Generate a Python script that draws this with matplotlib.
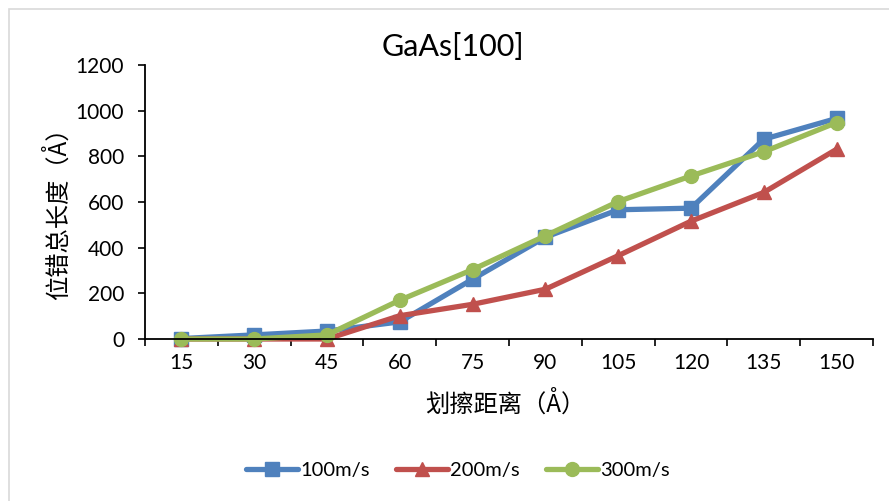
import matplotlib
matplotlib.use("Agg")
import matplotlib.pyplot as plt
from matplotlib.patches import Rectangle

plt.rcParams['font.family'] = ['Lato', 'Noto Sans CJK SC', 'DejaVu Sans']

distances = [15, 30, 45, 60, 75, 90, 105, 120, 135, 150]
v100 = [2, 18, 35, 75, 262, 446, 566, 573, 875, 966]
v200 = [0, 0, 0, 102, 152, 218, 365, 516, 642, 831]
v300 = [0, 0, 18, 170, 304, 452, 602, 714, 820, 948]
series_labels = ['100m/s', '200m/s', '300m/s']
y_ticks = [0, 200, 400, 600, 800, 1000, 1200]

colors = ['#4F81BD', '#C0504D', '#9BBB59']
markers = ['s', '^', 'o']

fig = plt.figure(figsize=(8.89, 5.01), dpi=100)
fig.patches.append(Rectangle((9 / 889, -0.1), 1.2, 1 - 9 / 501 + 0.1,
                             transform=fig.transFigure, fill=False,
                             edgecolor='#D9D9D9', linewidth=1.2))

ax = fig.add_axes([145 / 889, 1 - 339 / 501, (873 - 145) / 889, (339 - 65) / 501])
xs = list(range(len(distances)))
for vals, c, m, lab in zip([v100, v200, v300], colors, markers, series_labels):
    ax.plot(xs, vals, color=c, marker=m, markersize=10, linewidth=3.8,
            label=lab, clip_on=False, solid_capstyle='round')

ax.set_xlim(-0.5, len(distances) - 0.5)
ax.set_ylim(0, 1200)
ax.set_yticks(y_ticks)
ax.set_yticklabels([str(v) for v in y_ticks], fontsize=15)
ax.set_xticks(xs)
ax.set_xticklabels([str(d) for d in distances], fontsize=15)
ax.tick_params(axis='x', which='major', length=0, pad=10)
ax.set_xticks([i + 0.5 for i in range(-1, len(distances))], minor=True)
ax.tick_params(axis='x', which='minor', length=5, width=1.2, direction='out')
ax.tick_params(axis='y', length=5, width=1.2, direction='out', pad=10)

for s in ['top', 'right']:
    ax.spines[s].set_visible(False)
for s in ['left', 'bottom']:
    ax.spines[s].set_linewidth(1.3)

fig.text(453 / 889, 1 - 47 / 501, 'GaAs[100]', fontsize=22, ha='center', va='center')
fig.text(505 / 889, 1 - 404 / 501, '划擦距离（Å）', fontsize=17.5, ha='center', va='center',
         family=['Noto Sans CJK SC', 'DejaVu Sans'])
fig.text(58 / 889, 1 - 208 / 501, '位错总长度（Å）', fontsize=17.5, ha='center', va='center',
         rotation=90, family=['Noto Sans CJK SC', 'DejaVu Sans'])

fig.legend(loc='center', bbox_to_anchor=(458 / 889, 1 - 470 / 501), ncol=3,
           frameon=False, fontsize=14.5, handlelength=2.6, columnspacing=1.3,
           handletextpad=0.1)

fig.savefig('out.png', dpi=100)
